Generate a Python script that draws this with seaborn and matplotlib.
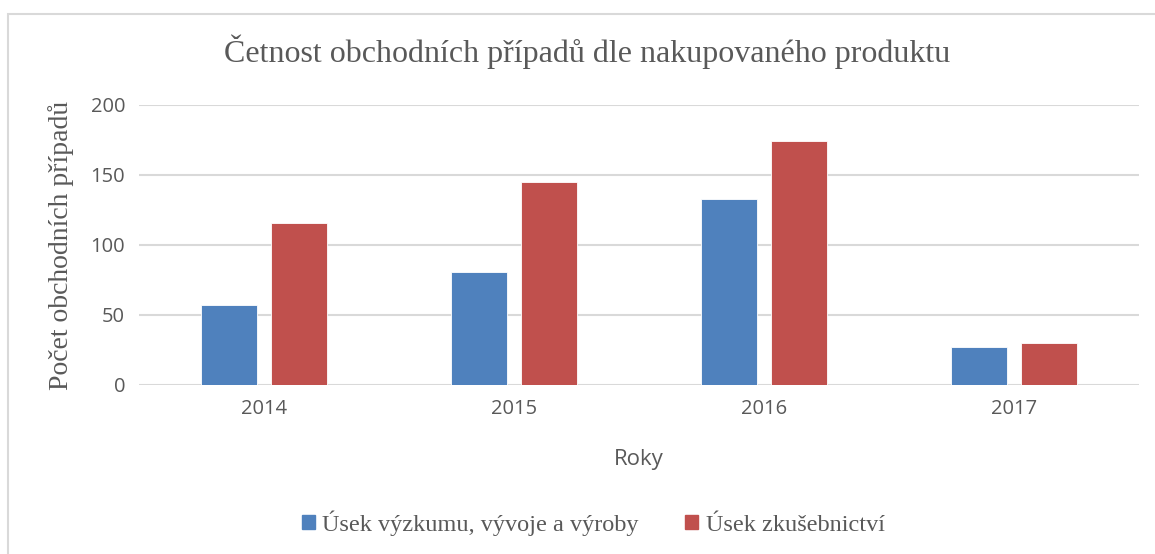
import numpy as np
import pandas as pd
import matplotlib.pyplot as plt
import matplotlib.patches as mpatches
import seaborn as sns

# Chart data
years = ["2014", "2015", "2016", "2017"]
vyzkum = [57, 81, 133, 27]
zkusebnictvi = [116, 145, 174, 30]
series_names = ["Úsek výzkumu, vývoje a výroby", "Úsek zkušebnictví"]
colors = ["#4F81BD", "#C0504D"]

df = pd.DataFrame({
    "Rok": years * 2,
    "Počet": vyzkum + zkusebnictvi,
    "Úsek": [series_names[0]] * len(years) + [series_names[1]] * len(years),
})

sns.set_theme(style="white")
serif = ["Liberation Serif", "DejaVu Serif"]
sans = ["Open Sans", "DejaVu Sans"]
text_col = "#595959"

fig = plt.figure(figsize=(11.55, 5.54), dpi=100)
ax = fig.add_axes([139 / 1155, 1 - 385 / 554, 1000 / 1155, 280 / 554])

sns.barplot(data=df, x="Rok", y="Počet", hue="Úsek", palette=colors,
            width=0.56, gap=0.2, ax=ax, legend=False,
            edgecolor="white", linewidth=0.6, saturation=1)

ax.set_ylim(0, 200)
ax.set_xlim(-0.5, 3.5)
ax.set_yticks([0, 50, 100, 150, 200])
ax.grid(axis="y", color="#D9D9D9", linewidth=1.5)
ax.set_axisbelow(True)
for s in ax.spines.values():
    s.set_visible(False)
ax.tick_params(length=0, labelsize=14.5, labelcolor=text_col, pad=10)
for lab in ax.get_xticklabels() + ax.get_yticklabels():
    lab.set_family(sans)

ax.set_xlabel("Roky", fontsize=16, color=text_col, family=sans, labelpad=22)
ax.set_ylabel("Počet obchodních případů", fontsize=20, color=text_col,
              family=serif, labelpad=12)
fig.text(587 / 1155, 1 - 52 / 554, "Četnost obchodních případů dle nakupovaného produktu",
         ha="center", va="center", fontsize=23, color=text_col, family=serif)

handles = [mpatches.Patch(color=c, label=n) for c, n in zip(colors, series_names)]
leg = fig.legend(handles=handles, loc="center", bbox_to_anchor=(593 / 1155, 1 - 523 / 554),
                 ncol=2, frameon=False, handlelength=0.55, handleheight=0.55,
                 handletextpad=0.3, columnspacing=1.9,
                 prop={"family": serif, "size": 17.5})
for t in leg.get_texts():
    t.set_color(text_col)

# chart border
fig.patches.append(mpatches.Rectangle((8 / 1155, -0.1), 1.2, 1 - 14 / 554 + 0.1,
                                      transform=fig.transFigure, fill=False,
                                      edgecolor="#D9D9D9", linewidth=1.5))

fig.savefig("out.png", dpi=100)
